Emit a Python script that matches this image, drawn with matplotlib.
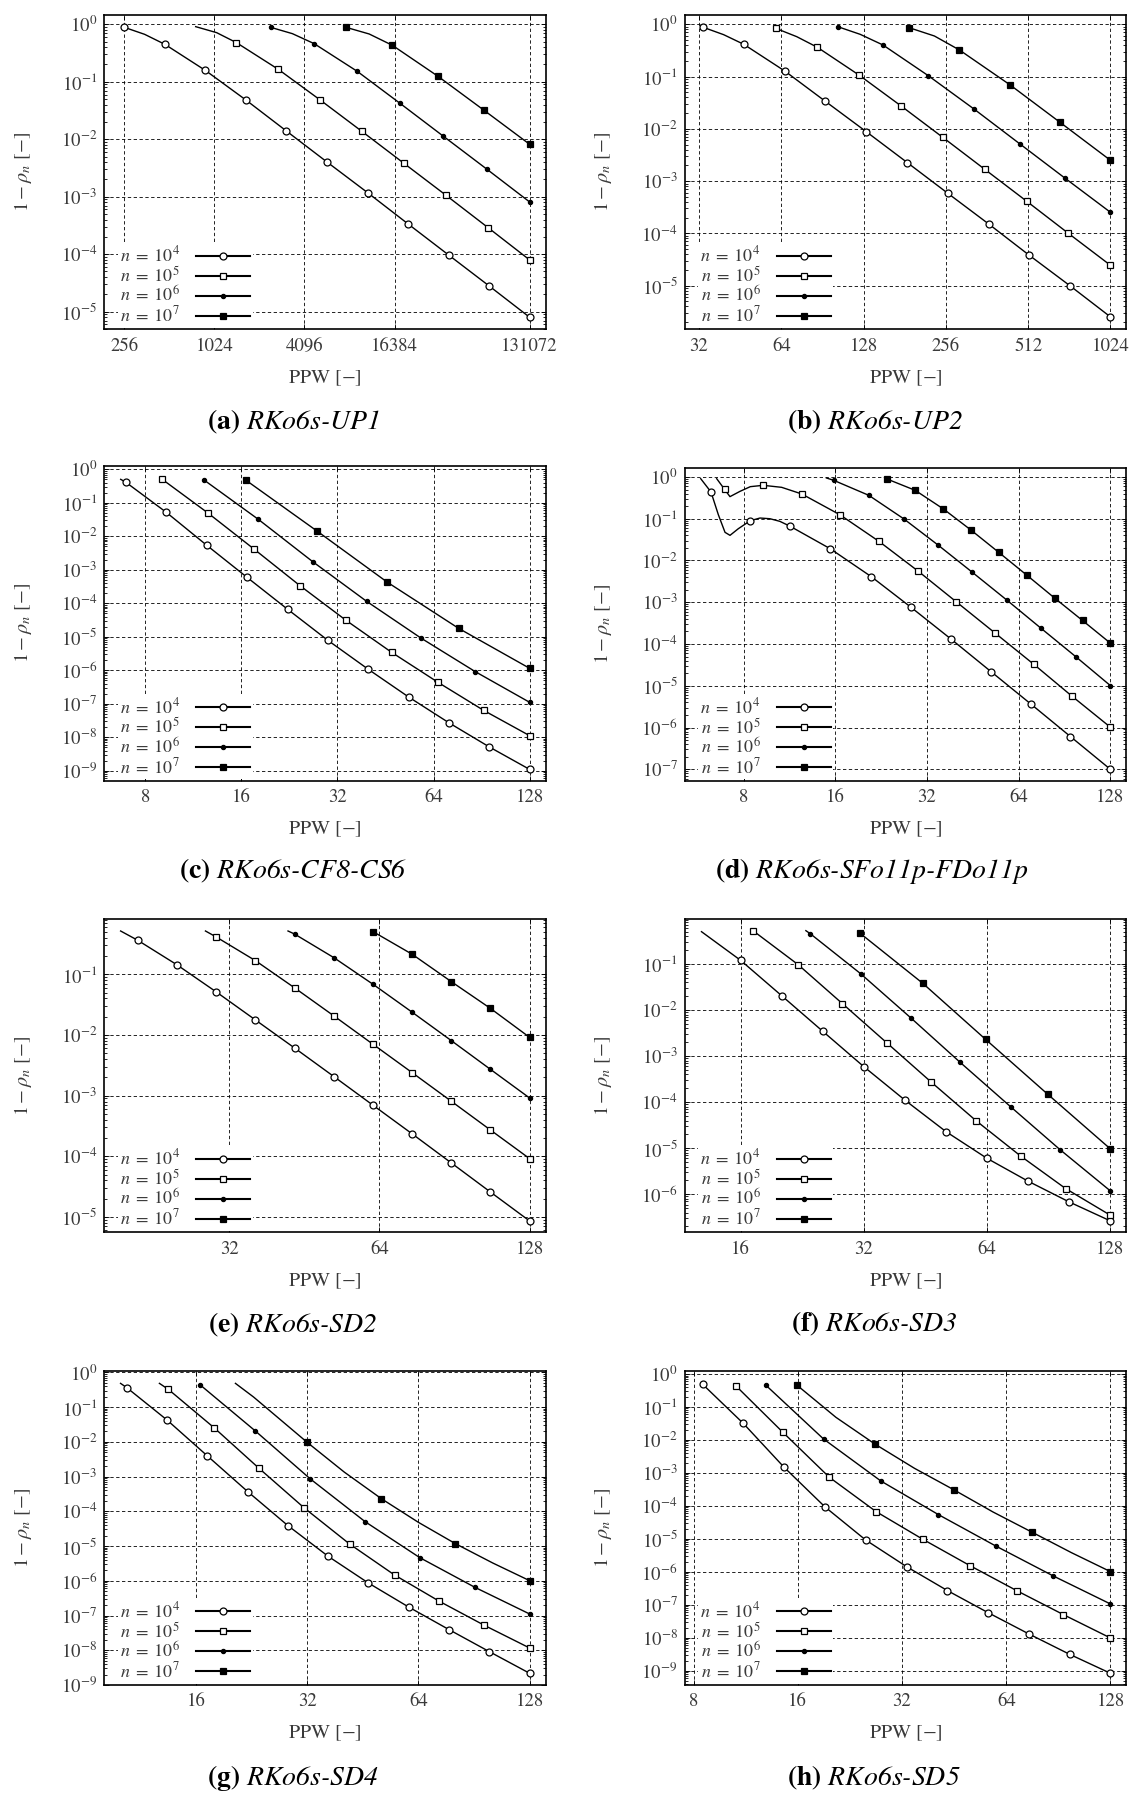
import numpy as np
import matplotlib
matplotlib.use('Agg')
import matplotlib.pyplot as plt
from matplotlib.ticker import FixedLocator, FixedFormatter, LogLocator, NullFormatter, NullLocator

plt.rcParams['font.family'] = 'STIXGeneral'
plt.rcParams['mathtext.fontset'] = 'stix'

LABELS = [r'$n \;=\; 10^4$', r'$n \;=\; 10^5$', r'$n \;=\; 10^6$', r'$n \;=\; 10^7$']

# ---------------- (a) RKo6s-UP1 ----------------
A_PPW = [[256, 478, 891, 1664, 3104, 5793, 10809, 20171, 37641, 70240, 131072],
         [1438, 2736, 5219, 9919, 18937, 36157, 69036, 131072],
         [2434, 4757, 9230, 17819, 34780, 67520, 131072],
         [7761, 15850, 31984, 64946, 131072]]
A_ERR = [[0.887, 0.449, 0.158, 0.0482, 0.0139, 4.02e-3, 1.18e-3, 3.36e-4, 9.68e-5, 2.80e-5, 7.97e-6],
         [0.480, 0.165, 0.0482, 0.0137, 3.81e-3, 1.06e-3, 2.90e-4, 7.93e-5],
         [0.887, 0.461, 0.152, 0.0422, 0.01125, 3.04e-3, 8.09e-4],
         [0.887, 0.431, 0.1245, 0.0319, 8.16e-3]]
A_LINE_PPW = [[350], [768, 1061], [3402], [11090]]
A_LINE_ERR = [[0.670], [0.911, 0.716], [0.688], [0.679]]

# ---------------- (b) RKo6s-UP2 ----------------
B_PPW = [[33.2, 46.7, 65.9, 92.8, 130.9, 185, 260.3, 367.3, 517, 729.7, 1024],
         [61.1, 86.8, 123.6, 175.6, 249.3, 355.3, 506, 718.6, 1024],
         [103, 150.8, 220.7, 324.3, 476.1, 699.5, 1024],
         [187.8, 287, 438.4, 670, 1024]]
B_ERR = [[0.876, 0.414, 0.128, 0.0336, 8.84e-3, 2.26e-3, 5.84e-4, 1.51e-4, 3.80e-5, 9.86e-6, 2.52e-6],
         [0.838, 0.363, 0.1057, 0.0274, 6.89e-3, 1.68e-3, 4.11e-4, 1.0e-4, 2.45e-5],
         [0.902, 0.402, 0.1042, 0.024, 5.21e-3, 1.13e-3, 2.53e-4],
         [0.863, 0.323, 0.0701, 0.0133, 2.5e-3]]
B_LINE_PPW = [[39.4], [72.9], [124.4], [232.5]]
B_LINE_ERR = [[0.634], [0.581], [0.644], [0.598]]

# ---------------- (c) RKo6s-CF8-CS6 ----------------
C_PPW = [[6.96, 9.31, 12.47, 16.67, 22.35, 29.86, 40.0, 53.5, 71.7, 95.8, 128],
         [9.04, 12.57, 17.57, 24.42, 34.04, 47.3, 66.1, 91.8, 128],
         [12.22, 18.08, 26.76, 39.5, 58.4, 86.5, 128],
         [16.5, 27.6, 45.9, 76.7, 128]]
C_ERR = [[0.409, 0.052, 5.37e-3, 5.94e-4, 6.58e-5, 7.81e-6, 1.06e-6, 1.58e-7, 2.65e-8, 5.08e-9, 1.09e-9],
         [0.503, 0.0497, 4.08e-3, 3.35e-4, 3.09e-5, 3.42e-6, 4.34e-7, 6.34e-8, 1.11e-8],
         [0.480, 0.0321, 1.75e-3, 1.14e-4, 9.16e-6, 9.05e-7, 1.10e-7],
         [0.480, 0.0144, 4.22e-4, 1.78e-5, 1.14e-6]]
C_LINE_PPW = [[6.70], [], [], []]
C_LINE_ERR = [[0.503], [], [], []]

# ---------------- (d) RKo6s-SFo11p-FDo11p ----------------
D_PPW = [[6.255, 8.42, 11.39, 15.41, 21.03, 28.41, 38.4, 51.9, 70.1, 94.7, 128],
         [6.93, 9.28, 12.43, 16.56, 22.27, 29.92, 39.9, 53.45, 71.66, 95.5, 128],
         [15.81, 20.62, 26.81, 34.68, 45.0, 58.5, 75.9, 98.7, 128],
         [23.65, 29.28, 36.25, 44.63, 55.1, 68.0, 84.0, 103.7, 128]]
D_ERR = [[0.437, 0.0898, 0.0657, 0.0191, 4.08e-3, 7.51e-4, 1.31e-4, 2.19e-5, 3.68e-6, 6.07e-7, 1.0e-7],
         [0.506, 0.631, 0.391, 0.125, 0.0287, 5.58e-3, 1.03e-3, 1.85e-4, 3.29e-5, 5.73e-6, 1.02e-6],
         [0.832, 0.3635, 0.1003, 0.0239, 5.28e-3, 1.13e-3, 2.36e-4, 4.93e-5, 1.01e-5],
         [0.895, 0.479, 0.171, 0.0536, 0.0156, 4.48e-3, 1.26e-3, 3.66e-4, 1.05e-4]]
D_LINE_PPW = [[5.786, 6.612, 6.955, 7.222, 7.69, 9.06, 9.77, 10.53],
              [6.53, 7.22, 7.79, 8.42, 10.67],
              [14.97], []]
D_LINE_ERR = [[0.912, 0.125, 0.0472, 0.040, 0.0577, 0.104, 0.100, 0.0865],
              [0.912, 0.338, 0.453, 0.586, 0.565],
              [0.946], []]

# ---------------- (e) RKo6s-SD2 ----------------
E_PPW = [[20.97, 25.1, 30.13, 36.1, 43.24, 51.87, 62.15, 74.45, 89.2, 106.8, 128],
         [30.13, 36.1, 43.3, 51.87, 62.15, 74.45, 89.2, 106.8, 128],
         [43.24, 51.87, 62.15, 74.45, 89.2, 106.8, 128],
         [62.15, 74.45, 89.2, 106.8, 128]]
E_ERR = [[0.3635, 0.1443, 0.0512, 0.01768, 6.11e-3, 2.06e-3, 6.93e-4, 2.34e-4, 7.76e-5, 2.58e-5, 8.59e-6],
         [0.412, 0.168, 0.0595, 0.0206, 7.01e-3, 2.39e-3, 8.07e-4, 2.72e-4, 9.16e-5],
         [0.462, 0.188, 0.0684, 0.0237, 8.06e-3, 2.72e-3, 9.15e-4],
         [0.505, 0.214, 0.0757, 0.0275, 9.15e-3]]
E_LINE_PPW = [[19.37], [28.66], [41.96], []]
E_LINE_ERR = [[0.518], [0.518], [0.518], []]

# ---------------- (f) RKo6s-SD3 ----------------
F_PPW = [[16, 20.14, 25.4, 31.98, 40.34, 50.78, 63.9, 80.6, 101.5, 128],
         [17.15, 22.11, 28.36, 36.43, 46.79, 60.1, 77.4, 99.5, 128],
         [23.66, 31.41, 41.6, 54.97, 72.97, 96.6, 128],
         [31.34, 44.57, 63.4, 90.0, 128]]
F_ERR = [[0.1201, 0.0206, 3.45e-3, 5.91e-4, 1.10e-4, 2.29e-5, 6.05e-6, 1.92e-6, 6.82e-7, 2.64e-7],
         [0.529, 0.0967, 0.01377, 1.93e-3, 2.70e-4, 3.97e-5, 6.68e-6, 1.33e-6, 3.50e-7],
         [0.4556, 0.0617, 6.84e-3, 7.33e-4, 8.0e-5, 9.17e-6, 1.18e-6],
         [0.463, 0.0380, 2.32e-3, 1.48e-4, 9.64e-6]]
F_LINE_PPW = [[12.84], [], [23.09], []]
F_LINE_ERR = [[0.503], [], [0.529], []]

# ---------------- (g) RKo6s-SD4 ----------------
G_PPW = [[10.4, 13.36, 17.19, 22.1, 28.39, 36.48, 46.85, 60.2, 77.5, 99.6, 128],
         [13.47, 17.91, 23.70, 31.43, 41.68, 55.13, 72.95, 96.5, 128],
         [16.44, 23.17, 32.65, 45.91, 64.58, 91.0, 128],
         [32, 50.8, 80.6, 128]]
G_ERR = [[0.362, 0.0425, 3.91e-3, 3.67e-4, 3.86e-5, 5.05e-6, 8.63e-7, 1.76e-7, 3.91e-8, 9.1e-9, 2.17e-9],
         [0.324, 0.0255, 1.73e-3, 1.245e-4, 1.144e-5, 1.47e-6, 2.56e-7, 5.22e-8, 1.16e-8],
         [0.432, 0.0205, 8.50e-4, 5.03e-5, 4.62e-6, 6.48e-7, 1.106e-7],
         [9.66e-3, 2.31e-4, 1.17e-5, 1.007e-6]]
G_LINE_PPW = [[10.0], [12.74], [], [20.46, 22.91, 40.3, 64.0, 101.7]]
G_LINE_ERR = [[0.4825], [0.4825], [], [0.4825, 0.195, 1.35e-3, 4.81e-5, 3.25e-6]]

# ---------------- (h) RKo6s-SD5 ----------------
H_PPW = [[8.50, 11.13, 14.61, 19.18, 25.12, 32.98, 43.29, 56.7, 74.4, 97.5, 128],
         [10.61, 14.46, 19.74, 26.94, 36.76, 50.28, 68.6, 93.6, 128],
         [12.95, 18.99, 27.8, 40.78, 59.67, 87.5, 128],
         [15.89, 26.8, 45.1, 76.1, 128]]
H_ERR = [[0.486, 0.0319, 1.475e-3, 9.24e-5, 9.22e-6, 1.43e-6, 2.68e-7, 5.76e-8, 1.30e-8, 3.14e-9, 8.32e-10],
         [0.4325, 0.0174, 7.34e-4, 6.67e-5, 9.66e-6, 1.535e-6, 2.68e-7, 5.01e-8, 9.8e-9],
         [0.453, 0.01067, 5.68e-4, 5.41e-5, 6.06e-6, 7.46e-7, 1.055e-7],
         [0.4637, 7.35e-3, 3.10e-4, 1.574e-5, 1.01e-6]]
H_LINE_PPW = [[], [], [], [20.62, 34.77, 58.6, 98.7]]
H_LINE_ERR = [[], [], [], [0.0485, 1.376e-3, 6.52e-5, 3.81e-6]]

CAPTIONS = ['(a)', '(b)', '(c)', '(d)', '(e)', '(f)', '(g)', '(h)']
SCHEMES = ['RKo6s-UP1', 'RKo6s-UP2', 'RKo6s-CF8-CS6', 'RKo6s-SFo11p-FDo11p',
           'RKo6s-SD2', 'RKo6s-SD3', 'RKo6s-SD4', 'RKo6s-SD5']
XTICKS = [[256, 1024, 4096, 16384, 131072], [32, 64, 128, 256, 512, 1024],
          [8, 16, 32, 64, 128], [8, 16, 32, 64, 128], [32, 64, 128],
          [16, 32, 64, 128], [16, 32, 64, 128], [8, 16, 32, 64, 128]]
XLIMS = [(187.4, 168450), (28.33, 1171), (5.94, 144.0), (5.12, 144.5),
         (17.94, 138.1), (11.67, 140.0), (9.02, 141.7), (7.53, 142.3)]
YLIMS = [(4.93e-6, 1.453), (1.46e-6, 1.509), (5.02e-10, 1.258), (5.33e-8, 1.64),
         (5.58e-6, 0.8166), (1.496e-7, 0.948), (1.0e-9, 1.117), (3.67e-10, 1.262)]

# layout in pixels (left, top, right, bottom)
W, H = 1130, 1794
BOXES = [(104, 15, 546, 329.3), (684.5, 15, 1126.4, 329.3),
         (104, 466, 546, 780.7), (684.5, 468, 1126.4, 780.7),
         (104, 919, 546, 1232.3), (684.5, 919, 1126.4, 1232.3),
         (104, 1370.7, 546, 1685), (684.5, 1370.7, 1126.4, 1685)]
CAP_POS = [(293, 421.7), (875, 421.7), (293, 871), (872, 871),
           (293, 1325), (874, 1324), (293, 1778), (874, 1778)]

MARKERS = ['o', 's', 'o', 's']
MFC = ['white', 'white', 'black', 'black']
MS = [5.0, 4.8, 3.0, 4.6]
GRAY = '#3a3a3a'

DATA = [(A_PPW, A_ERR, A_LINE_PPW, A_LINE_ERR), (B_PPW, B_ERR, B_LINE_PPW, B_LINE_ERR),
        (C_PPW, C_ERR, C_LINE_PPW, C_LINE_ERR), (D_PPW, D_ERR, D_LINE_PPW, D_LINE_ERR),
        (E_PPW, E_ERR, E_LINE_PPW, E_LINE_ERR), (F_PPW, F_ERR, F_LINE_PPW, F_LINE_ERR),
        (G_PPW, G_ERR, G_LINE_PPW, G_LINE_ERR), (H_PPW, H_ERR, H_LINE_PPW, H_LINE_ERR)]

fig = plt.figure(figsize=(W / 100, H / 100), dpi=100)

for p in range(8):
    l, t, r, b = BOXES[p]
    ax = fig.add_axes([l / W, 1 - b / H, (r - l) / W, (b - t) / H])
    ppw, err, lppw, lerr = DATA[p]
    for i in range(4):
        pts = [(x, y, True) for x, y in zip(ppw[i], err[i])] + \
              [(x, y, False) for x, y in zip(lppw[i], lerr[i])]
        pts.sort(key=lambda q: q[0])
        xs = [q[0] for q in pts]
        ys = [q[1] for q in pts]
        me = [k for k, q in enumerate(pts) if q[2]]
        ax.plot(xs, ys, color='black', lw=1.0, marker=MARKERS[i], markevery=me,
                ms=MS[i], mfc=MFC[i], mec='black', mew=0.9, label=LABELS[i], zorder=3)
    ax.set_xscale('log', base=2)
    ax.set_yscale('log')
    ax.set_xlim(*XLIMS[p])
    ax.set_ylim(*YLIMS[p])
    ax.xaxis.set_major_locator(FixedLocator(XTICKS[p]))
    ax.xaxis.set_major_formatter(FixedFormatter([str(v) for v in XTICKS[p]]))
    ax.xaxis.set_minor_locator(NullLocator())
    lo, hi = YLIMS[p]
    decs = [k for k in range(-12, 2) if lo * 0.999 <= 10.0 ** k <= hi * 1.001]
    ax.yaxis.set_major_locator(FixedLocator([10.0 ** k for k in decs]))
    ax.yaxis.set_major_formatter(FixedFormatter([r'$10^{%d}$' % k for k in decs]))
    ax.yaxis.set_minor_locator(LogLocator(base=10, subs=np.arange(2, 10), numticks=100))
    ax.yaxis.set_minor_formatter(NullFormatter())
    ax.set_axisbelow(True)
    ax.grid(True, which='major', color='black', linestyle=(0, (4, 3)), linewidth=0.6)
    ax.tick_params(which='both', direction='in', top=True, right=True, width=0.6,
                   labelsize=13.5, labelcolor=GRAY)
    ax.tick_params(which='major', length=3.5)
    ax.tick_params(which='minor', length=2)
    ax.tick_params(axis='x', pad=6)
    ax.tick_params(axis='y', pad=5)
    for s in ax.spines.values():
        s.set_linewidth(1.2)
    ax.text(0.5, -48.7 / (b - t), 'PPW [$-$]',
            transform=ax.transAxes, ha='center', va='center', fontsize=14.5, color=GRAY)
    ax.text(-0.184, 0.5, r'$1-\rho_n\ [-]$', transform=ax.transAxes, rotation=90,
            ha='center', va='center', fontsize=14.5, color=GRAY)
    leg = ax.legend(loc='lower left', bbox_to_anchor=(0.031, 0.004), markerfirst=False,
                    frameon=True, facecolor='white', edgecolor='none', framealpha=1,
                    fancybox=False, handlelength=3.0, handletextpad=0.9, labelspacing=0.0,
                    borderpad=0.12, borderaxespad=0, fontsize=13, labelcolor=GRAY)
    leg.set_zorder(5)
    for hl in leg.get_lines():
        hl.set_linewidth(1.5)
    cx, cy = CAP_POS[p]
    fig.text(cx / W, 1 - cy / H, r'$\mathbf{%s}$ %s' % (CAPTIONS[p], SCHEMES[p]),
             ha='center', va='center', fontsize=20, style='italic', color='black')

fig.savefig('out.png', dpi=100)
